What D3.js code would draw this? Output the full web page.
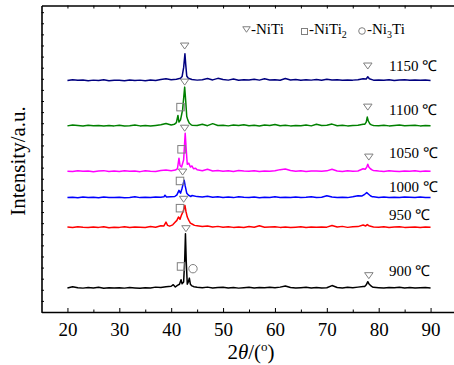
<!DOCTYPE html>
<html lang="en">
  <head>
    <meta charset="UTF-8" />
    <title>XRD patterns of NiTi at different temperatures</title>
    <script src="https://d3js.org/d3.v7.min.js"></script>
    <style>
      body {
        margin: 0;
        padding: 0;
        background: #fff;
        overflow: hidden;
      }
      svg text {
        font-family: "Times New Roman", "Liberation Serif", serif;
      }
    </style>
  </head>
  <body>
    <svg id="chart" width="454" height="365"></svg>

    <script>
      // ---- data ----
      // 2theta axis
      var xTicks = [20, 30, 40, 50, 60, 70, 80, 90];
      var xMinorTicks = [25, 35, 45, 55, 65, 75, 85];
      var noiseStart = 20; // first sample of the noise arrays, 1 degree step

      var temps = ["1150 ℃", "1100 ℃", "1050 ℃", "1000 ℃", "950 ℃", "900 ℃"];
      var colors = ["#00007f", "#008000", "#ff00ff", "#0000ff", "#ff0000", "#000000"];
      // vertical offsets of each pattern (a.u.)
      var offsets = [2080, 1670, 1260, 1025, 755, 210];
      // where the temperature label sits above its pattern (a.u.)
      var labelOffsets = [90, 105, 125, 55, 72, 117];

      // background noise, 20..90 deg
      var noise1150 = [4, 12, 6, 10, 3, 8, 5, 11, 2, 7,
        6, 3, 9, 4, 8, 2, 10, 5, 14, 20,
        12, 16, 30, 10, 14, 8, 12, 22, 10, 24,
        14, 8, 18, 6, 12, 9, 15, 8, 20, 10,
        12, 7, 22, 9, 14, 6, 11, 8, 13, 7,
        16, 9, 12, 6, 10, 8, 12, 20, 30, 8,
        10, 6, 12, 5, 9, 11, 6, 10, 7, 9, 5];
      var noise1100 = [6, 14, 9, 5, 12, 7, 10, 4, 9, 6,
        11, 5, 8, 13, 6, 9, 4, 10, 16, 28,
        14, 10, 10, 10, 12, 9, 20, 8, 26, 10,
        12, 6, 14, 9, 16, 8, 11, 5, 13, 9,
        18, 7, 12, 6, 10, 8, 14, 6, 20, 9,
        12, 22, 8, 11, 6, 10, 12, 20, 10, 10,
        8, 12, 6, 10, 14, 7, 9, 12, 6, 10, 8];
      var noise1050 = [8, 5, 12, 7, 10, 4, 9, 13, 6, 10,
        5, 11, 7, 9, 4, 12, 8, 6, 14, 18,
        12, 20, 30, 40, 35, 20, 12, 25, 10, 14,
        8, 12, 6, 14, 9, 7, 11, 5, 10, 8,
        12, 22, 28, 14, 8, 12, 6, 10, 9, 7,
        11, 26, 9, 6, 12, 8, 10, 30, 20, 14,
        9, 6, 11, 8, 5, 10, 7, 12, 6, 9, 8];
      var noise1000 = [5, 9, 4, 11, 6, 8, 3, 10, 7, 5,
        9, 4, 7, 12, 5, 8, 6, 10, 9, 30,
        12, 20, 20, 20, 25, 14, 10, 18, 8, 12,
        6, 10, 5, 12, 8, 6, 11, 4, 9, 7,
        12, 6, 9, 5, 10, 7, 8, 12, 6, 9,
        22, 10, 6, 9, 5, 12, 22, 40, 20, 12,
        7, 10, 5, 9, 6, 11, 8, 5, 10, 7, 6];
      var noise950 = [10, 6, 13, 8, 5, 11, 7, 12, 4, 9,
        7, 12, 5, 10, 8, 6, 14, 9, 22, 30,
        25, 30, 30, 30, 40, 22, 14, 20, 10, 16,
        8, 12, 7, 11, 6, 14, 9, 22, 8, 10,
        12, 7, 10, 5, 9, 13, 6, 10, 8, 11,
        9, 24, 10, 16, 7, 12, 14, 28, 22, 10,
        8, 12, 6, 10, 13, 7, 9, 11, 6, 10, 8];
      var noise900 = [6, 18, 8, 5, 10, 7, 12, 4, 9, 6,
        8, 5, 11, 7, 4, 9, 6, 14, 10, 18,
        22, 20, 20, 20, 20, 12, 8, 14, 6, 10,
        12, 7, 10, 5, 9, 13, 7, 10, 8, 12,
        9, 14, 24, 10, 6, 9, 12, 7, 10, 6,
        8, 28, 10, 7, 12, 9, 14, 20, 20, 12,
        9, 6, 11, 8, 12, 7, 10, 6, 9, 11, 7];

      // diffraction peaks [2theta, intensity], grouped
      var peaks1150 = [
        [[41.8, 25], [42.1, 40], [42.4, 120], [42.65, 245], [42.8, 150], [43.0, 45], [43.3, 25]],
        [[77.6, 18], [77.9, 38], [78.2, 20]]
      ];
      var peaks1100 = [
        [[40.6, 20], [41.0, 35], [41.3, 100], [41.5, 40], [41.8, 60], [42.2, 150], [42.6, 355], [42.8, 230], [43.0, 90], [43.2, 60], [43.5, 30], [43.8, 18]],
        [[77.3, 20], [77.6, 40], [77.8, 85], [78.0, 50], [78.3, 25], [78.6, 15]]
      ];
      var peaks1050 = [
        [[40.8, 18], [41.2, 30], [41.5, 125], [41.7, 60], [42.0, 45], [42.4, 110], [42.7, 350], [42.9, 200], [43.1, 70], [43.4, 80], [43.7, 45], [44.0, 55], [44.3, 30], [44.7, 35]],
        [[77.4, 25], [77.7, 45], [77.9, 70], [78.1, 45], [78.4, 30], [78.8, 18]]
      ];
      var peaks1000 = [
        [[38.6, 12], [38.8, 27], [39.1, 10], [40.7, 15], [41.1, 30], [41.5, 70], [41.8, 45], [42.1, 90], [42.5, 162], [42.7, 110], [43.0, 45], [43.4, 25], [43.8, 15]],
        [[76.8, 20], [77.3, 35], [77.7, 50], [78.0, 38], [78.4, 22], [78.8, 12]]
      ];
      var peaks950 = [
        [[38.6, 20], [39.0, 55], [39.3, 25], [39.7, 18], [40.3, 30], [40.7, 50], [41.1, 70], [41.4, 100], [41.7, 80], [42.0, 120], [42.3, 150], [42.65, 205], [42.85, 150], [43.1, 100], [43.4, 70], [43.7, 45], [44.1, 35], [44.5, 25]],
        [[77.5, 20], [77.8, 32], [78.1, 22]]
      ];
      var peaks900 = [
        [[40.4, 36], [40.8, 15], [41.2, 30], [41.6, 40], [41.9, 80], [42.1, 45], [42.4, 60], [42.6, 250], [42.75, 495], [42.9, 250], [43.1, 40], [43.3, 60], [43.5, 95], [43.7, 40], [44.0, 25], [44.4, 18]],
        [[77.3, 20], [77.6, 35], [77.9, 63], [78.1, 45], [78.4, 30], [78.8, 15]]
      ];

      var noiseList = [noise1150, noise1100, noise1050, noise1000, noise950, noise900];
      var peakList = [peaks1150, peaks1100, peaks1050, peaks1000, peaks950, peaks900];

      // phase markers: [pattern index, 2theta, height above pattern (a.u.)]
      var nitiMarks = [[0, 42.6, 315], [0, 77.9, 135], [1, 42.6, 400], [1, 77.9, 175],
        [2, 42.6, 395], [2, 78.1, 135], [3, 42.2, 235], [4, 42.4, 260],
        [5, 42.85, 540], [5, 78.1, 117]];
      var niti2Marks = [[1, 41.8, 175], [2, 42.0, 205], [3, 41.7, 155], [4, 41.7, 180], [5, 41.9, 200]];
      var ni3tiMarks = [[5, 44.2, 180]];

      // ---- drawing ----
      var svg = d3.select("#chart");
      var marginLeft = 41.5, marginTop = 5.5, axisY = 312;

      var x = d3.scaleLinear().domain([15, 95]).range([marginLeft, 456.5]);
      var y = d3.scaleLinear().domain([0, 2760]).range([axisY, marginTop]);

      function buildTrace(noise, peaks) {
        var pts = [];
        noise.forEach(function (v, i) {
          var t = noiseStart + i;
          var inside = peaks.some(function (g) {
            return t >= g[0][0] && t <= g[g.length - 1][0];
          });
          if (!inside) pts.push([t, v]);
        });
        peaks.forEach(function (g) {
          pts = pts.concat(g);
        });
        pts.sort(function (a, b) {
          return a[0] - b[0];
        });
        return pts;
      }

      // patterns
      temps.forEach(function (t, k) {
        var pts = buildTrace(noiseList[k], peakList[k]);
        var line = d3
          .line()
          .x(function (d) {
            return x(d[0]);
          })
          .y(function (d) {
            return y(offsets[k] + d[1]);
          });
        svg
          .append("path")
          .datum(pts)
          .attr("d", line)
          .attr("fill", "none")
          .attr("stroke", colors[k])
          .attr("stroke-width", 1.5)
          .attr("stroke-linejoin", "round");
      });

      var markGrey = "#7f7f7f";

      // down triangles (NiTi)
      function triPath(cx, cy, w, h) {
        return "M" + (cx - w / 2) + "," + (cy - h / 2) + "L" + (cx + w / 2) + "," + (cy - h / 2) +
          "L" + cx + "," + (cy + h / 2) + "Z";
      }
      svg
        .selectAll(".niti")
        .data(nitiMarks)
        .enter()
        .append("path")
        .attr("class", "niti")
        .attr("d", function (d) {
          return triPath(x(d[1]), y(offsets[d[0]] + d[2]), 8.5, 6);
        })
        .attr("fill", "none")
        .attr("stroke", markGrey)
        .attr("stroke-width", 1);

      svg
        .selectAll(".niti2")
        .data(niti2Marks)
        .enter()
        .append("rect")
        .attr("class", "niti2")
        .attr("x", function (d) {
          return x(d[1]) - 3.75;
        })
        .attr("y", function (d) {
          return y(offsets[d[0]] + d[2]) - 3.75;
        })
        .attr("width", 7.5)
        .attr("height", 7.5)
        .attr("fill", "none")
        .attr("stroke", markGrey)
        .attr("stroke-width", 1);

      svg
        .selectAll(".ni3ti")
        .data(ni3tiMarks)
        .enter()
        .append("circle")
        .attr("class", "ni3ti")
        .attr("cx", function (d) {
          return x(d[1]);
        })
        .attr("cy", function (d) {
          return y(offsets[d[0]] + d[2]);
        })
        .attr("r", 4.2)
        .attr("fill", "none")
        .attr("stroke", markGrey)
        .attr("stroke-width", 1);

      // temperature labels
      svg
        .selectAll(".temp")
        .data(temps)
        .enter()
        .append("text")
        .attr("class", "temp")
        .attr("x", x(82))
        .attr("y", function (d, k) {
          return y(offsets[k] + labelOffsets[k]);
        })
        .attr("font-size", 15)
        .text(function (d) {
          return d;
        });

      // axes
      var xAxis = svg
        .append("g")
        .attr("transform", "translate(0," + axisY + ")")
        .call(d3.axisBottom(x).tickValues(xTicks).tickSizeInner(-4).tickSizeOuter(0).tickPadding(11));
      xAxis.selectAll("text").attr("font-size", 19).attr("font-family", null).attr("fill", "#000");

      svg
        .append("g")
        .attr("transform", "translate(0," + axisY + ")")
        .call(d3.axisBottom(x).tickValues(xMinorTicks).tickSizeInner(-2.5).tickSizeOuter(0).tickFormat(""))
        .select(".domain")
        .remove();

      svg
        .append("g")
        .attr("transform", "translate(0," + marginTop + ")")
        .call(d3.axisTop(x).tickValues(xTicks.concat(xMinorTicks)).tickSizeInner(-3).tickSizeOuter(0).tickFormat(""));

      svg
        .append("g")
        .attr("transform", "translate(" + marginLeft + ",0)")
        .call(d3.axisLeft(y).ticks(28).tickSizeInner(-2.5).tickSizeOuter(0).tickFormat(""));

      svg.selectAll(".domain").attr("stroke-width", 1.6).attr("stroke", "#000");
      svg.selectAll(".tick line").attr("stroke", "#000").attr("stroke-width", 1);

      // axis titles
      svg
        .append("text")
        .attr("transform", "translate(25,161) rotate(-90)")
        .attr("text-anchor", "middle")
        .attr("font-size", 21)
        .text("Intensity/a.u.");

      var xt = svg
        .append("text")
        .attr("x", 251)
        .attr("y", 359)
        .attr("text-anchor", "middle")
        .attr("font-size", 21);
      xt.append("tspan").text("2");
      xt.append("tspan").attr("font-style", "italic").text("θ");
      xt.append("tspan").text("/(");
      xt.append("tspan").attr("font-size", 13).attr("dy", -8).text("o");
      xt.append("tspan").attr("dy", 8).text(")");

      // legend
      var legY = 34;
      svg
        .append("path")
        .attr("d", triPath(246.5, 29.5, 7.5, 5.5))
        .attr("fill", "none")
        .attr("stroke", markGrey);
      svg
        .append("rect")
        .attr("x", 301.5)
        .attr("y", 28.5)
        .attr("width", 6)
        .attr("height", 6)
        .attr("fill", "none")
        .attr("stroke", markGrey);
      svg
        .append("circle")
        .attr("cx", 362)
        .attr("cy", 31)
        .attr("r", 3.3)
        .attr("fill", "none")
        .attr("stroke", markGrey);

      svg.append("text").attr("x", 251).attr("y", legY).attr("font-size", 15).text("-NiTi");
      var l2 = svg.append("text").attr("x", 309).attr("y", legY).attr("font-size", 15);
      l2.append("tspan").text("-NiTi");
      l2.append("tspan").attr("font-size", 10).attr("dy", 4).text("2");
      var l3 = svg.append("text").attr("x", 367).attr("y", legY).attr("font-size", 15);
      l3.append("tspan").text("-Ni");
      l3.append("tspan").attr("font-size", 10).attr("dy", 4).text("3");
      l3.append("tspan").attr("dy", -4).text("Ti");
    </script>
  </body>
</html>
